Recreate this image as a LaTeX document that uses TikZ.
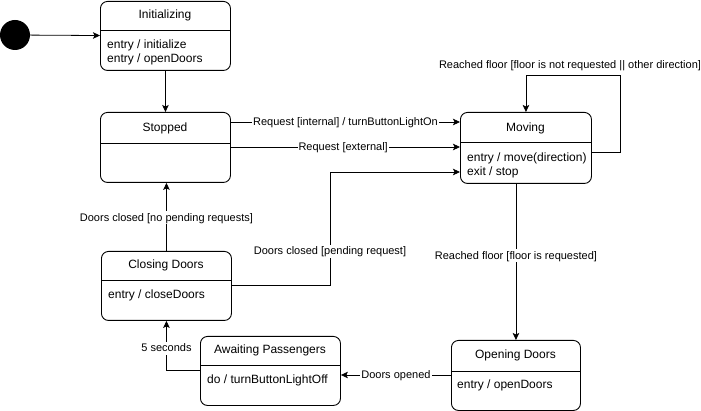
\documentclass[tikz,border=0pt]{standalone}
\usepackage{fontspec}
\setmainfont{Liberation Sans}
\usetikzlibrary{arrows.meta}
\begin{document}
\begin{tikzpicture}[x=1pt,y=-1pt,
  state/.style={draw=black, line width=0.9pt, rounded corners=7pt, rectangle, inner sep=0pt, anchor=north west},
  divider/.style={draw=black, line width=0.9pt},
  title/.style={font=\fontsize{12}{14}\selectfont, inner sep=0pt, text height=10.5pt, text depth=1.5pt},
  body/.style={font=\fontsize{12}{14}\selectfont, inner sep=0pt, anchor=west, text height=10.5pt, text depth=1.5pt},
  conn/.style={draw=black, line width=0.8pt, -{Stealth[length=7pt,width=6.5pt,inset=1.5pt]}},
  elabel/.style={font=\fontsize{11}{13}\selectfont, fill=white, inner sep=1pt, text height=9pt, text depth=2pt},
  flabel/.style={font=\fontsize{11}{13}\selectfont, inner sep=1pt, text height=9pt, text depth=2pt}
]
\useasboundingbox (0,0) rectangle (701,411);

% initial state
\node[circle, fill=black, minimum size=30pt, inner sep=0pt] (start) at (15,35) {};

% Initializing
\node[state, minimum width=130pt, minimum height=69pt] (init) at (100,1) {};
\draw[divider] (100,30) -- (230,30);
\node[title] (initT) at (165,14) {Initializing};
\node[body] (initB1) at (107,44) {entry / initialize};
\node[body] (initB2) at (107,58) {entry / openDoors};

% Stopped
\node[state, minimum width=130pt, minimum height=70pt] (stopped) at (100,112) {};
\draw[divider] (100,143) -- (230,143);
\node[title] (stoppedT) at (165,127) {Stopped};

% Moving
\node[state, minimum width=131pt, minimum height=71pt] (moving) at (460,112) {};
\draw[divider] (460,142) -- (591,142);
\node[title] (movingT) at (525.5,127) {Moving};
\node[body] (movingB1) at (467,157) {entry / move(direction)};
\node[body] (movingB2) at (467,171) {exit / stop};

% Closing Doors
\node[state, minimum width=130pt, minimum height=69pt] (closing) at (101,251) {};
\draw[divider] (101,280) -- (231,280);
\node[title] (closingT) at (166,264) {Closing Doors};
\node[body] (closingB1) at (108,294) {entry / closeDoors};

% Awaiting Passengers
\node[state, minimum width=140pt, minimum height=69pt] (awaiting) at (200,336) {};
\draw[divider] (200,365) -- (340,365);
\node[title] (awaitingT) at (270,349) {Awaiting Passengers};
\node[body] (awaitingB1) at (207,379) {do / turnButtonLightOff};

% Opening Doors
\node[state, minimum width=129pt, minimum height=70pt] (opening) at (451,340) {};
\draw[divider] (451,371) -- (580,371);
\node[title] (openingT) at (515.5,354) {Opening Doors};
\node[body] (openingB1) at (457,384) {entry / openDoors};

% connectors
\draw[conn] (start) -- (init);
\draw[conn] (init) -- (stopped);

\draw[conn] (stopped.east |- 0,122) -- node[elabel, pos=0.5] {Request [internal] / turnButtonLightOn} (moving.west |- 0,122);
\draw[conn] (stopped.east |- 0,147) -- node[elabel, pos=0.49] {Request [external]} (moving.west |- 0,147);

\coordinate (loopA) at (620,75);
\draw[conn] (moving.east |- 0,152) -| (loopA) -| (moving.north);
\node[flabel] (loopL) at (570,65) {Reached floor [floor is not requested || other direction]};

\draw[conn] (opening.north |- moving.south) -- node[elabel, pos=0.46] {Reached floor [floor is requested]} (opening.north);

\draw[conn] (opening.west |- 0,375) -- node[elabel, pos=0.5] {Doors opened} (awaiting.east |- 0,375);

\draw[conn] (awaiting.west |- 0,370) -| node[elabel, pos=0.72] {5 seconds} (closing.south);

\draw[conn] (closing.north) -- node[elabel, pos=0.49] {Doors closed [no pending requests]} (stopped.south -| closing.north);

\coordinate (pendA) at (330,285);
\coordinate (pendB) at (330,172);
\draw[conn] (closing.east |- pendA) -- (pendA) -- node[elabel, pos=0.3] {Doors closed [pending request]} (pendB) -- (moving.west |- pendB);

\end{tikzpicture}
\end{document}
